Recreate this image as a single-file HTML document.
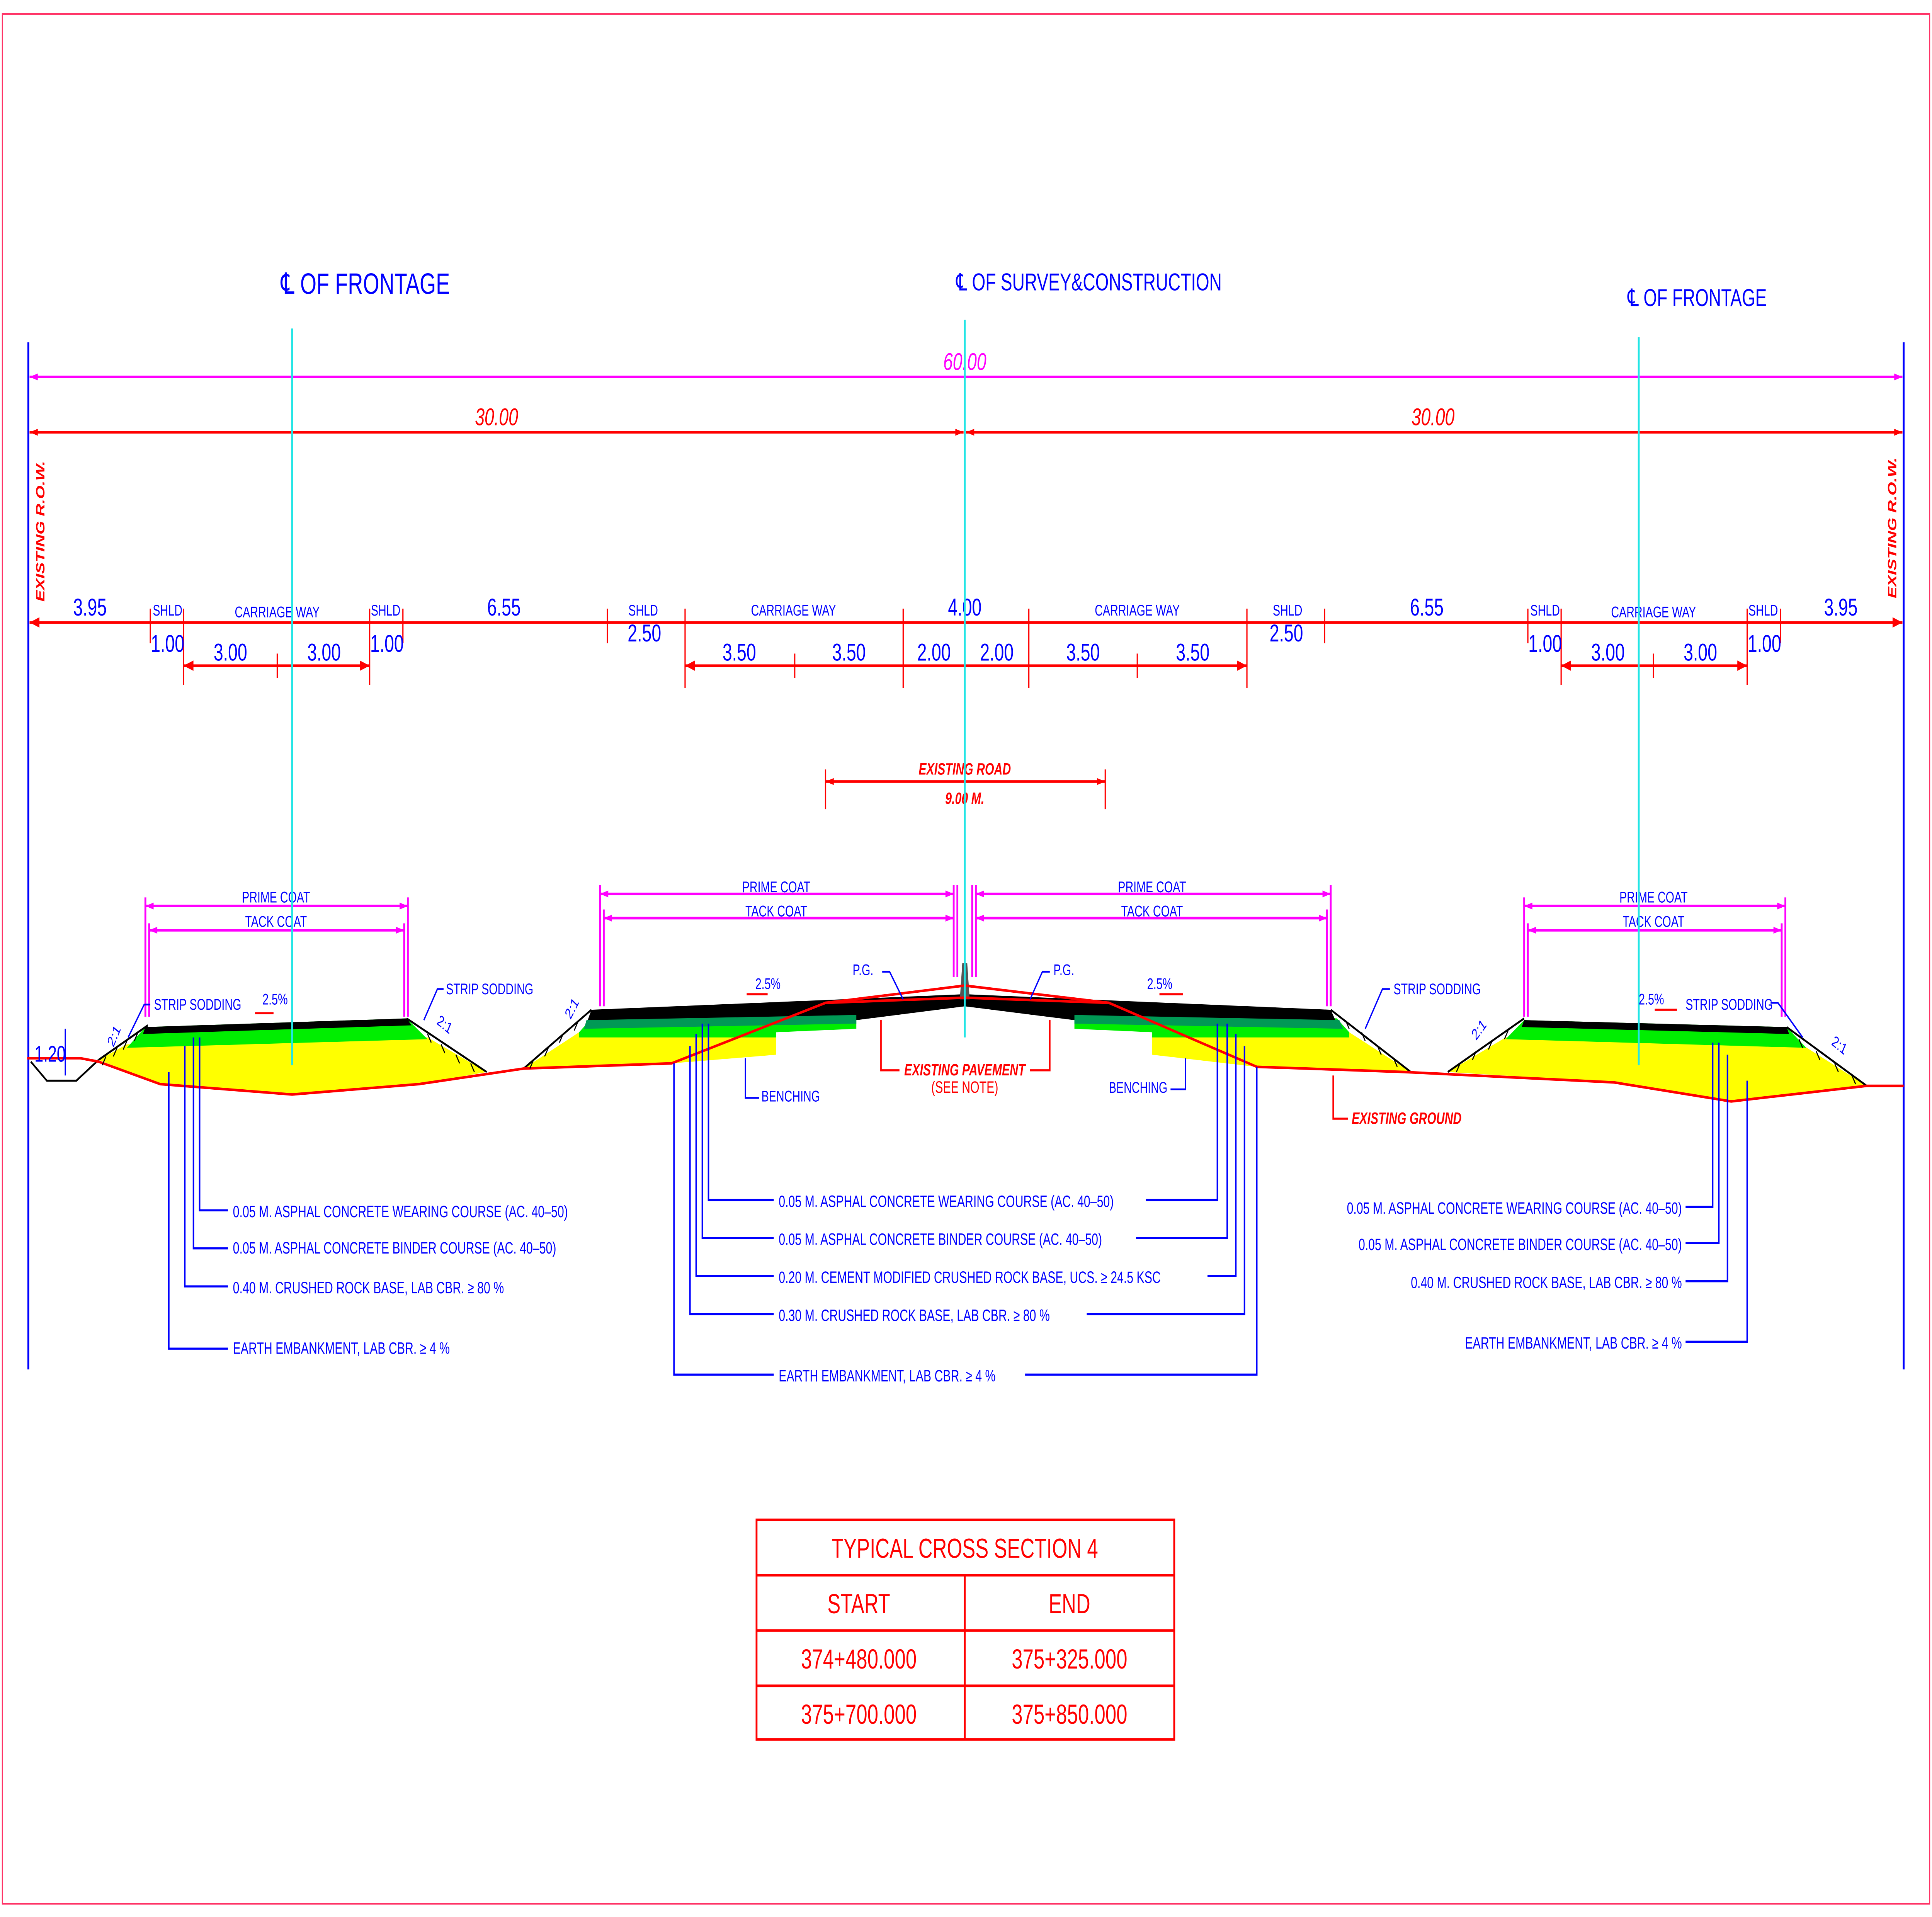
<!DOCTYPE html>
<html><head><meta charset="utf-8"><style>
html,body{margin:0;padding:0;background:#fff;overflow:hidden;width:100%;height:100%}
svg{display:block;width:100vw;height:100vh;position:absolute;left:0;top:0}
text{font-family:"Liberation Sans",sans-serif}
.b{fill:#0000ff}.r{fill:#ff0000}.m{fill:#ff00ff}
</style></head><body>
<svg viewBox="0 0 1568 1108.7" preserveAspectRatio="none" xmlns="http://www.w3.org/2000/svg">
<defs>
<marker id="ar" viewBox="0 0 10 6" refX="10" refY="3" markerWidth="7" markerHeight="4" orient="auto-start-reverse" markerUnits="userSpaceOnUse"><path d="M0,0L10,3L0,6z" fill="#ff0000"/></marker>
<marker id="am" viewBox="0 0 10 6" refX="10" refY="3" markerWidth="7" markerHeight="4" orient="auto-start-reverse" markerUnits="userSpaceOnUse"><path d="M0,0L10,3L0,6z" fill="#ff00ff"/></marker>
</defs>
<rect x="0" y="0" width="1568" height="1109" fill="#fff"/>
<rect x="2" y="8" width="1564" height="1093" fill="none" stroke="#ff3366" stroke-width="1"/>
<line x1="23" y1="198" x2="23" y2="792" stroke="#0000ff" stroke-width="1.5"/>
<line x1="1545" y1="198" x2="1545" y2="792" stroke="#0000ff" stroke-width="1.5"/>
<text transform="translate(36,348) rotate(-90)" class="r" font-size="10" font-style="italic" font-weight="bold">EXISTING  R.O.W.</text>
<text transform="translate(1539,346) rotate(-90)" class="r" font-size="10" font-style="italic" font-weight="bold">EXISTING  R.O.W.</text>

<g class="b" font-size="17">
<text x="228" y="170">℄ OF FRONTAGE</text>
<text x="776" y="168" font-size="14">℄ OF SURVEY&amp;CONSTRUCTION</text>
<text x="1321" y="177" font-size="14">℄ OF FRONTAGE</text>
</g>

<line x1="24" y1="218" x2="1544" y2="218" stroke="#ff00ff" stroke-width="1.5" marker-start="url(#am)" marker-end="url(#am)"/>
<text x="783" y="214" class="m" font-size="14" font-style="italic" text-anchor="middle">60.00</text>
<line x1="24" y1="250" x2="782" y2="250" stroke="#ff0000" stroke-width="1.5" marker-start="url(#ar)" marker-end="url(#ar)"/>
<line x1="784" y1="250" x2="1544" y2="250" stroke="#ff0000" stroke-width="1.5" marker-start="url(#ar)" marker-end="url(#ar)"/>
<text x="403" y="246" class="r" font-size="14" font-style="italic" text-anchor="middle">30.00</text>
<text x="1163" y="246" class="r" font-size="14" font-style="italic" text-anchor="middle">30.00</text>

<g stroke="#ff0000" stroke-width="1.5">
<line x1="24" y1="360" x2="1544" y2="360"/>
<g stroke-width="1">
<line x1="122" y1="352" x2="122" y2="372"/><line x1="149" y1="352" x2="149" y2="396"/>
<line x1="300" y1="352" x2="300" y2="396"/><line x1="327" y1="352" x2="327" y2="372"/>
<line x1="493" y1="352" x2="493" y2="372"/><line x1="556" y1="352" x2="556" y2="398"/>
<line x1="733" y1="352" x2="733" y2="398"/><line x1="835" y1="352" x2="835" y2="398"/>
<line x1="1012" y1="352" x2="1012" y2="398"/><line x1="1075" y1="352" x2="1075" y2="372"/>
<line x1="1240" y1="352" x2="1240" y2="372"/><line x1="1267" y1="352" x2="1267" y2="396"/>
<line x1="1418" y1="352" x2="1418" y2="396"/><line x1="1445" y1="352" x2="1445" y2="372"/>
<line x1="225" y1="378" x2="225" y2="392"/><line x1="645" y1="378" x2="645" y2="392"/>
<line x1="923" y1="378" x2="923" y2="392"/><line x1="1342" y1="378" x2="1342" y2="392"/>
</g>
<g stroke-width="1.5">
<line x1="149" y1="385" x2="300" y2="385"/><line x1="556" y1="385" x2="1012" y2="385"/><line x1="1267" y1="385" x2="1418" y2="385"/>
</g>
</g>
<g fill="#ff0000">
<path d="M24,360l8,-3v6z"/><path d="M1544,360l-8,-3v6z"/>
<path d="M149,385l8,-3v6z"/><path d="M300,385l-8,-3v6z"/><path d="M556,385l8,-3v6z"/><path d="M1012,385l-8,-3v6z"/>
<path d="M1267,385l8,-3v6z"/><path d="M1418,385l-8,-3v6z"/>
</g>
<g class="b" font-size="14" text-anchor="middle">
<text x="73" y="356">3.95</text><text x="409" y="356">6.55</text><text x="783" y="356">4.00</text>
<text x="1158" y="356">6.55</text><text x="1494" y="356">3.95</text>
<text x="136" y="377">1.00</text><text x="314" y="377">1.00</text><text x="523" y="371">2.50</text>
<text x="1044" y="371">2.50</text><text x="1254" y="377">1.00</text><text x="1432" y="377">1.00</text>
<text x="187" y="382">3.00</text><text x="263" y="382">3.00</text>
<text x="600" y="382">3.50</text><text x="689" y="382">3.50</text><text x="758" y="382">2.00</text><text x="809" y="382">2.00</text>
<text x="879" y="382">3.50</text><text x="968" y="382">3.50</text>
<text x="1305" y="382">3.00</text><text x="1380" y="382">3.00</text>
</g>
<g class="b" font-size="9" text-anchor="middle">
<text x="136" y="356">SHLD</text><text x="225" y="357">CARRIAGE WAY</text><text x="313" y="356">SHLD</text>
<text x="522" y="356">SHLD</text><text x="644" y="356">CARRIAGE WAY</text><text x="923" y="356">CARRIAGE WAY</text>
<text x="1045" y="356">SHLD</text><text x="1254" y="356">SHLD</text><text x="1342" y="357">CARRIAGE WAY</text><text x="1431" y="356">SHLD</text>
</g>

<line x1="670" y1="452" x2="897" y2="452" stroke="#ff0000" stroke-width="1.5" marker-start="url(#ar)" marker-end="url(#ar)"/>
<line x1="670" y1="445" x2="670" y2="468" stroke="#ff0000"/><line x1="897" y1="445" x2="897" y2="468" stroke="#ff0000"/>
<text x="783" y="448" class="r" font-size="9.5" font-style="italic" font-weight="bold" text-anchor="middle">EXISTING ROAD</text>
<text x="783" y="465" class="r" font-size="9.5" font-style="italic" font-weight="bold" text-anchor="middle">9.00 M.</text>

<g stroke="#ff00ff" stroke-width="1.5" fill="none">
<line x1="118" y1="524" x2="331" y2="524" marker-start="url(#am)" marker-end="url(#am)"/>
<line x1="121" y1="538" x2="328" y2="538" marker-start="url(#am)" marker-end="url(#am)"/>
<path d="M118,519V588M121,534V588M331,519V588M328,534V588"/>
<line x1="487" y1="517" x2="774" y2="517" marker-start="url(#am)" marker-end="url(#am)"/>
<line x1="490" y1="531" x2="774" y2="531" marker-start="url(#am)" marker-end="url(#am)"/>
<path d="M487,512V582M490,526V582M774,512V565M777,512V565"/>
<line x1="792" y1="517" x2="1080" y2="517" marker-start="url(#am)" marker-end="url(#am)"/>
<line x1="792" y1="531" x2="1077" y2="531" marker-start="url(#am)" marker-end="url(#am)"/>
<path d="M789,512V565M792,512V565M1080,512V582M1077,526V582"/>
<line x1="1237" y1="524" x2="1449" y2="524" marker-start="url(#am)" marker-end="url(#am)"/>
<line x1="1240" y1="538" x2="1446" y2="538" marker-start="url(#am)" marker-end="url(#am)"/>
<path d="M1237,519V588M1240,534V588M1449,519V588M1446,534V588"/>
</g>
<g class="b" font-size="9" text-anchor="middle">
<text x="224" y="522">PRIME COAT</text><text x="224" y="536">TACK COAT</text>
<text x="630" y="516">PRIME COAT</text><text x="630" y="530">TACK COAT</text>
<text x="935" y="516">PRIME COAT</text><text x="935" y="530">TACK COAT</text>
<text x="1342" y="522">PRIME COAT</text><text x="1342" y="536">TACK COAT</text>
</g>

<polygon points="80,613 103,604 347,600 395,620 340,627 237,633 130,627" fill="#ffff00"/>
<polygon points="103,606 118,594 330,589 347,601" fill="#00ee00"/>
<polygon points="118,594 330,589 334,593 116,598" fill="#000"/>
<path d="M80,613L120,593M330,589L395,620" stroke="#000" stroke-width="1.2" fill="none"/>
<path d="M25,614L38,625H62L80,613" stroke="#000" stroke-width="1.2" fill="none"/>
<polygon points="425,618 470,597 630,594 630,610 545,615" fill="#ffff00"/>
<polygon points="1145,620 1095,597 935,594 935,610 1020,617" fill="#ffff00"/>
<polygon points="470,597 480,589 695,586 695,595 630,597 630,600 470,600" fill="#00ee00"/>
<polygon points="1095,597 1085,589 872,586 872,595 935,597 935,600 1095,600" fill="#00ee00"/>
<polygon points="480,584 783,575 1080,584 1085,592 872,590 783,582 695,590 476,592" fill="#000"/>
<polygon points="476,590 695,587 695,592 474,595" fill="#009955"/>
<polygon points="1087,590 872,587 872,592 1090,595" fill="#009955"/>
<path d="M425,618L480,584M1080,584L1145,620" stroke="#000" stroke-width="1.2" fill="none"/>
<polygon points="779,578 781,557 785,557 787,578" fill="#555"/>
<polygon points="1175,620 1222,600 1462,604 1515,628 1405,637 1310,626" fill="#ffff00"/>
<polygon points="1222,601 1237,590 1450,594 1466,606" fill="#00ee00"/>
<polygon points="1237,590 1450,594 1452,598 1235,594" fill="#000"/>
<path d="M1175,620L1237,589M1450,594L1515,628" stroke="#000" stroke-width="1.2" fill="none"/>

<polyline points="22,612 65,612 80,614 130,627 237,633 340,627 425,618 545,615 670,580 783,577 900,580 1020,617 1140,620 1310,626 1405,637 1515,628 1545,628" fill="none" stroke="#ff0000" stroke-width="1.5"/>
<polyline points="670,580 783,570 900,580" fill="none" stroke="#ff0000" stroke-width="1.5"/>

<g stroke="#22e5e5" stroke-width="1.5">
<line x1="237" y1="190" x2="237" y2="616"/><line x1="783" y1="185" x2="783" y2="600"/><line x1="1330" y1="195" x2="1330" y2="616"/>
</g>

<line x1="53" y1="595" x2="53" y2="622" stroke="#0000ff"/>
<text x="28" y="614" class="b" font-size="13">1.20</text>
<g class="b" font-size="9">
<text transform="translate(92,606) rotate(-60)">2:1</text>
<text transform="translate(354,592) rotate(30)">2:1</text>
<text transform="translate(463,590) rotate(-55)">2:1</text>
<text transform="translate(1198,602) rotate(-45)">2:1</text>
<text transform="translate(1486,604) rotate(30)">2:1</text>
<text x="125" y="584">STRIP SODDING</text>
<text x="362" y="575">STRIP SODDING</text>
<text x="1131" y="575">STRIP SODDING</text>
<text x="1368" y="584">STRIP SODDING</text>
<text x="213" y="581">2.5%</text><text x="613" y="572">2.5%</text><text x="931" y="572">2.5%</text><text x="1330" y="581">2.5%</text>
<text x="692" y="564">P.G.</text><text x="855" y="564">P.G.</text>
<text x="618" y="637">BENCHING</text><text x="900" y="632">BENCHING</text>
</g>
<g stroke="#0000ff" fill="none" stroke-width="1">
<path d="M122,581H117L104,600"/><path d="M360,572H355L344,590"/><path d="M1128,572H1122L1108,595"/><path d="M1437,580H1443L1463,600"/>
<path d="M716,562H722L733,578"/><path d="M852,562H846L836,578"/>
<path d="M616,635H605V612"/><path d="M950,630H962V612"/>
</g>
<g stroke="#ff0000" fill="none" stroke-width="1.2">
<path d="M222,586H207"/><path d="M623,575H606"/><path d="M941,575H960"/><path d="M1343,584H1361"/>
</g>
<g stroke="#000" stroke-width="0.8">
<path d="M86,611l-3,5M95,606l-3,5M103,602l-3,5M112,597l-3,5M347,598l3,5M358,604l3,5M370,610l3,5M382,615l3,5M433,613l-3,5M445,606l-3,5M457,598l-3,5M469,591l-3,5M1092,590l3,5M1105,597l3,5M1118,605l3,5M1131,612l3,5M1185,615l-3,5M1198,608l-3,5M1211,602l-3,5M1224,596l-3,5M1460,601l3,5M1474,608l3,5M1489,615l3,5M1503,622l3,5"/>
</g>

<g stroke="#ff0000" fill="none" stroke-width="1.2">
<path d="M715,590V619H730"/><path d="M852,590V619H836"/><path d="M1082,622V647H1094"/>
</g>
<text x="783" y="622" class="r" font-size="9.5" font-style="italic" font-weight="bold" text-anchor="middle">EXISTING PAVEMENT</text>
<text x="783" y="632" class="r" font-size="9.5" text-anchor="middle">(SEE NOTE)</text>
<text x="1097" y="650" class="r" font-size="9.5" font-style="italic" font-weight="bold">EXISTING GROUND</text>

<g stroke="#0000ff" fill="none" stroke-width="1.2">
<path d="M162,600V700H185"/><path d="M157,600V722H185"/><path d="M150,605V744H185"/><path d="M137,620V780H185"/>
<path d="M575,592V694H628M930,694H988V592"/>
<path d="M570,592V716H628M922,716H996V592"/>
<path d="M565,598V738H628M980,738H1003V598"/>
<path d="M560,605V760H628M882,760H1010V605"/>
<path d="M547,615V795H628M832,795H1020V617"/>
<path d="M1368,698H1390V603"/><path d="M1368,719H1395V603"/><path d="M1368,741H1402V610"/><path d="M1368,776H1418V625"/>
</g>
<g class="b" font-size="9.5">
<text x="189" y="704">0.05 M. ASPHAL CONCRETE WEARING COURSE  (AC. 40–50)</text>
<text x="189" y="725">0.05 M. ASPHAL CONCRETE BINDER COURSE   (AC. 40–50)</text>
<text x="189" y="748">0.40 M. CRUSHED ROCK BASE, LAB CBR. ≥ 80 %</text>
<text x="189" y="783">EARTH EMBANKMENT,   LAB CBR. ≥ 4 %</text>
<text x="632" y="698">0.05 M. ASPHAL CONCRETE WEARING COURSE  (AC. 40–50)</text>
<text x="632" y="720">0.05 M. ASPHAL CONCRETE BINDER COURSE  (AC. 40–50)</text>
<text x="632" y="742">0.20 M. CEMENT MODIFIED  CRUSHED ROCK BASE, UCS.  ≥ 24.5 KSC</text>
<text x="632" y="764">0.30 M. CRUSHED ROCK BASE, LAB CBR. ≥ 80 %</text>
<text x="632" y="799">EARTH EMBANKMENT,   LAB CBR. ≥ 4 %</text>
<g text-anchor="end">
<text x="1365" y="702">0.05 M. ASPHAL CONCRETE WEARING COURSE  (AC. 40–50)</text>
<text x="1365" y="723">0.05 M. ASPHAL CONCRETE BINDER COURSE   (AC. 40–50)</text>
<text x="1365" y="745">0.40 M. CRUSHED ROCK BASE, LAB CBR. ≥ 80 %</text>
<text x="1365" y="780">EARTH EMBANKMENT,   LAB CBR. ≥ 4 %</text>
</g>
</g>

<g stroke="#ff0000" stroke-width="1.5" fill="none">
<rect x="614" y="879" width="339" height="127"/>
<path d="M614,911H953M614,943H953M614,975H953M783,911V1006"/>
</g>
<g class="r" font-size="16" text-anchor="middle">
<text x="783" y="901">TYPICAL CROSS SECTION 4</text>
<text x="697" y="933">START</text><text x="868" y="933">END</text>
<text x="697" y="965">374+480.000</text><text x="868" y="965">375+325.000</text>
<text x="697" y="997">375+700.000</text><text x="868" y="997">375+850.000</text>
</g>
</svg>
</body></html>
